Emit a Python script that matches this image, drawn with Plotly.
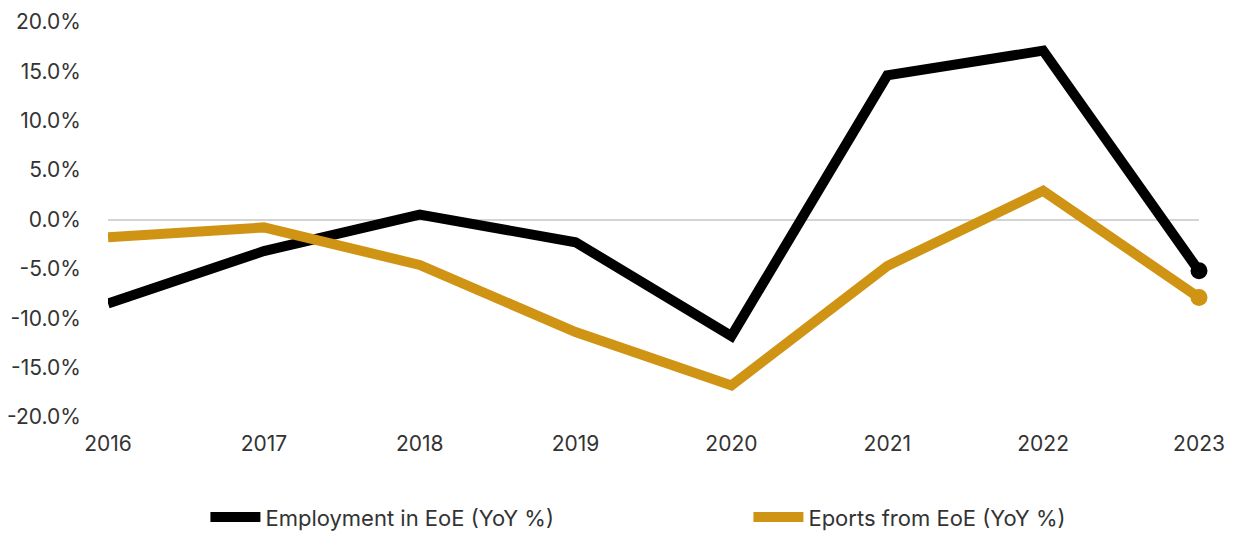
import plotly.graph_objects as go

years = [2016, 2017, 2018, 2019, 2020, 2021, 2022, 2023]
employment = [-8.5, -3.2, 0.5, -2.3, -11.8, 14.6, 17.1, -5.2]
exports = [-1.8, -0.8, -4.6, -11.4, -16.8, -4.7, 2.9, -7.9]

y_tick_vals = [20, 15, 10, 5, 0, -5, -10, -15, -20]
y_tick_text = ["20.0%", "15.0%", "10.0%", "5.0%", "0.0%", "-5.0%", "-10.0%", "-15.0%", "-20.0%"]
x_tick_text = [str(y) for y in years]

BLACK = "#000000"
GOLD = "#D09414"
FONT = "Inter, 'Open Sans', sans-serif"

fig = go.Figure()
for name, values, color in [
    ("Employment in EoE (YoY %)", employment, BLACK),
    ("Eports from EoE (YoY %)", exports, GOLD),
]:
    fig.add_trace(go.Scatter(
        x=years, y=values, name=name, mode="lines",
        line=dict(color=color, width=10), cliponaxis=False,
    ))
    # round dot on the latest year
    fig.add_trace(go.Scatter(
        x=years[-1:], y=values[-1:], mode="markers", showlegend=False,
        marker=dict(color=color, size=17), cliponaxis=False, hoverinfo="skip",
    ))

fig.update_layout(
    width=1236, height=536,
    margin=dict(l=108, r=37, t=22, b=119, autoexpand=False),
    paper_bgcolor="white", plot_bgcolor="white",
    font=dict(family=FONT, size=21, color="#333333"),
    showlegend=True,
    legend=dict(
        orientation="h", x=0.587, xanchor="center",
        yref="container", y=0.035, yanchor="middle",
        font=dict(size=22, color="#333333"),
        entrywidth=478, itemwidth=50,
    ),
    xaxis=dict(
        range=[2016, 2023], tickvals=years, ticktext=x_tick_text,
        showgrid=False, zeroline=False, showline=False,
        ticks="outside", ticklen=8, tickcolor="rgba(0,0,0,0)",
    ),
    yaxis=dict(
        range=[-20, 20], tickvals=y_tick_vals, ticktext=y_tick_text,
        showgrid=False, zeroline=True, zerolinecolor="#d4d4d4", zerolinewidth=2,
        showline=False,
        ticks="outside", ticklen=22, tickcolor="rgba(0,0,0,0)",
    ),
)

fig.write_html("out.html")
